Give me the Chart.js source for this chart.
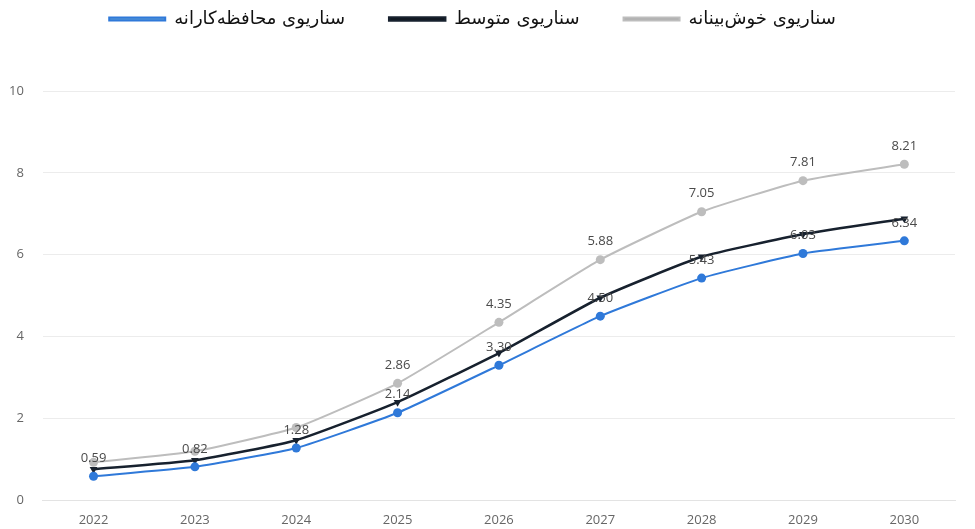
<!DOCTYPE html>
<html>
<head>
<meta charset="utf-8">
<script src="https://cdn.jsdelivr.net/npm/chart.js@4.4.1/dist/chart.umd.min.js"></script>
<style>
  html, body { margin: 0; padding: 0; background: #fff; }
  #wrap { width: 975px; height: 529px; position: relative; }
</style>
</head>
<body>
<div id="wrap"><canvas id="chart"></canvas></div>
<script>
// Years on the x axis
const years = ["2022", "2023", "2024", "2025", "2026", "2027", "2028", "2029", "2030"];

// Scenario values
const conservative = [0.59, 0.82, 1.28, 2.14, 3.30, 4.50, 5.43, 6.03, 6.34];
const moderate = [0.76, 0.98, 1.47, 2.40, 3.60, 4.95, 5.95, 6.50, 6.88];
const optimistic = [0.93, 1.20, 1.78, 2.86, 4.35, 5.88, 7.05, 7.81, 8.21];

// Which points carry a value label
const conservativeLabelled = [0, 1, 2, 3, 4, 5, 6, 7, 8];
const optimisticLabelled = [3, 4, 5, 6, 7, 8];

const yTicks = [0, 2, 4, 6, 8, 10];

const names = {
  conservative: "سناریوی محافظه‌کارانه",
  moderate: "سناریوی متوسط",
  optimistic: "سناریوی خوش‌بینانه",
};

const BLUE = "#2f79d9";
const DARK = "#17212e";
const GRAY = "#bdbdbd";

// push the plot down under the legend
const legendGap = {
  id: "legendGap",
  beforeInit(chart) {
    const fit = chart.legend.fit;
    chart.legend.fit = function () {
      fit.bind(chart.legend)();
      this.height += 53;
    };
  },
};

// value labels above points
const valueLabels = {
  id: "valueLabels",
  afterDatasetsDraw(chart) {
    const ctx = chart.ctx;
    ctx.save();
    ctx.font = "13px 'Open Sans', sans-serif";
    ctx.fillStyle = "#4a4a4a";
    ctx.textAlign = "center";
    ctx.textBaseline = "middle";
    chart.data.datasets.forEach((ds, i) => {
      if (!ds.labelled) return;
      const meta = chart.getDatasetMeta(i);
      ds.labelled.forEach((idx) => {
        const p = meta.data[idx];
        ctx.fillText(ds.data[idx].toFixed(2), p.x, p.y - 18);
      });
    });
    ctx.restore();
  },
};

new Chart(document.getElementById("chart"), {
  type: "line",
  data: {
    labels: years,
    datasets: [
      {
        label: names.conservative,
        data: conservative,
        labelled: conservativeLabelled,
        borderColor: BLUE,
        backgroundColor: "#5b9bd5",
        borderWidth: 2,
        pointRadius: 4.5,
        pointBackgroundColor: BLUE,
        pointBorderWidth: 0,
        tension: 0.15,
        order: 1,
      },
      {
        label: names.moderate,
        data: moderate,
        borderColor: DARK,
        backgroundColor: "#000",
        borderWidth: 2.5,
        pointStyle: "triangle",
        rotation: 180,
        pointRadius: 4.5,
        pointBackgroundColor: DARK,
        pointBorderWidth: 0,
        tension: 0.15,
        order: 2,
      },
      {
        label: names.optimistic,
        data: optimistic,
        labelled: optimisticLabelled,
        borderColor: GRAY,
        backgroundColor: "#a9a9a9",
        borderWidth: 2,
        pointRadius: 4.5,
        pointBackgroundColor: GRAY,
        pointBorderWidth: 0,
        tension: 0.15,
        order: 3,
      },
    ],
  },
  options: {
    responsive: true,
    maintainAspectRatio: false,
    animation: false,
    layout: { padding: { top: -34, right: 20, left: -10, bottom: -11 } },
    plugins: {
      legend: {
        display: true,
        position: "top",
        labels: {
          boxWidth: 56,
          boxHeight: 3,
          padding: 44,
          color: "#111",
          font: { family: "'DejaVu Sans', serif", size: 18 },
        },
      },
      tooltip: { enabled: false },
    },
    scales: {
      x: {
        offset: true,
        grid: { display: false, drawTicks: false },
        border: { display: true, color: "#e3e3e3", width: 1 },
        ticks: {
          color: "#666",
          padding: 12,
          font: { family: "'Open Sans', sans-serif", size: 13 },
        },
      },
      y: {
        min: 0,
        max: 10,
        afterBuildTicks: (axis) => {
          axis.ticks = yTicks.map((v) => ({ value: v }));
        },
        grid: { color: "#ececec", drawTicks: false },
        border: { display: false },
        ticks: {
          color: "#666",
          padding: 19,
          font: { family: "'Open Sans', sans-serif", size: 13 },
        },
      },
    },
  },
  plugins: [legendGap, valueLabels],
});
</script>
</body>
</html>
